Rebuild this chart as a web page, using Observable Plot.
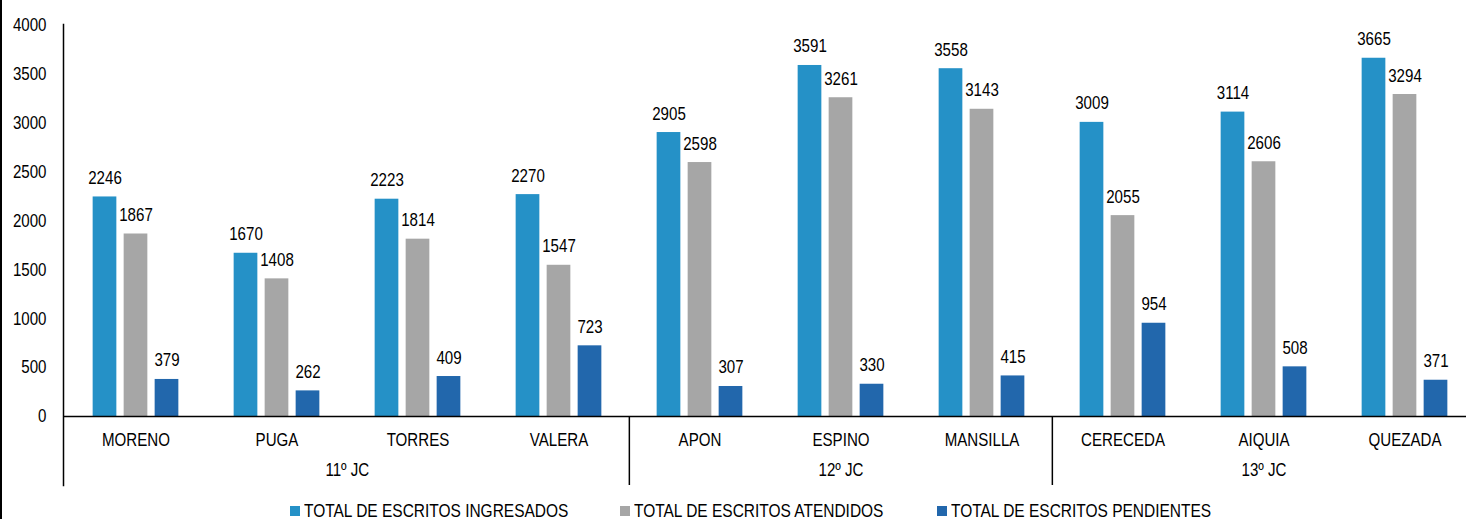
<!DOCTYPE html>
<html>
<head>
<meta charset="utf-8">
<script src="https://cdn.jsdelivr.net/npm/d3@7"></script>
<script src="https://cdn.jsdelivr.net/npm/@observablehq/plot@0.6"></script>
<style>
  html, body { margin: 0; padding: 0; background: #fff; }
  body { width: 1466px; height: 519px; position: relative; overflow: hidden; font-family: "Liberation Sans", Arial, sans-serif; }
  #edge { position: absolute; left: 0; top: 0; width: 1.5px; height: 519px; background: #000; }
  .item { position: absolute; top: 501px; height: 20px; display: flex; align-items: center; font-size: 18px; line-height: 20px; color: #000; white-space: nowrap; }
  .sw { width: 10px; height: 10px; margin-right: 4px; flex: none; }
  .lbl { display: inline-block; transform: scaleX(0.86); transform-origin: 0 50%; }
</style>
</head>
<body>
<div id="edge"></div>
<div id="chart"></div>
<div id="legend"></div>
<script>
const categories = ["MORENO", "PUGA", "TORRES", "VALERA", "APON", "ESPINO", "MANSILLA", "CERECEDA", "AIQUIA", "QUEZADA"];
const ingresados = [2246, 1670, 2223, 2270, 2905, 3591, 3558, 3009, 3114, 3665];
const atendidos  = [1867, 1408, 1814, 1547, 2598, 3261, 3143, 2055, 2606, 3294];
const pendientes = [379, 262, 409, 723, 307, 330, 415, 954, 508, 371];
const seriesNames = ["TOTAL DE ESCRITOS INGRESADOS", "TOTAL DE ESCRITOS ATENDIDOS", "TOTAL DE ESCRITOS PENDIENTES"];
const seriesColors = ["#2591c7", "#a6a6a6", "#2267ac"];
const yTicks = [0, 500, 1000, 1500, 2000, 2500, 3000, 3500, 4000];
const groupLabels = ["11º JC", "12º JC", "13º JC"];
const groupAnchors = ["TORRES", "ESPINO", "AIQUIA"];
const groupEdge = [true, false, false];
const separators = ["APON", "CERECEDA"];

const FONT = "'Liberation Sans', Arial, sans-serif";
const FS = 18;
const SQUEEZE = 0.84; // condensed look of the original typeface
const X0 = 63, X1 = 1476;
const bw = (X1 - X0) / categories.length;
const barW = 24, step = 31;
const inset = (bw - barW) / 2;
const legendLeft = [290, 620, 937];

const allSeries = [ingresados, atendidos, pendientes];
const marks = [];
allSeries.forEach((vals, s) => {
  const rows = categories.map((c, i) => ({cat: c, v: vals[i]}));
  const dx = (s - 1) * step;
  marks.push(Plot.barY(rows, {x: "cat", y: "v", fill: seriesColors[s], dx, insetLeft: inset, insetRight: inset}));
  marks.push(Plot.text(rows, {x: "cat", y: "v", text: d => String(d.v), dx, dy: -13, lineAnchor: "bottom", fontSize: FS, fill: "#000"}));
});

const plot = Plot.plot({
  width: 1466,
  height: 495,
  marginLeft: X0,
  marginRight: 0,
  marginTop: 24,
  marginBottom: 10,
  style: {fontFamily: FONT, fontSize: FS + "px", color: "#000", background: "#fff", overflow: "visible"},
  x: {type: "band", domain: categories, range: [X0, X1], padding: 0},
  y: {domain: [0, 4000], range: [416, 25]},
  marks: [
    ...marks,
    Plot.axisY({ticks: yTicks, tickSize: 0, tickPadding: 17, fontSize: FS, label: null, tickFormat: d => String(d)}),
    Plot.axisX({ticks: [], label: null}),
    Plot.frame({anchor: "left", stroke: "#000", strokeWidth: 1.5}),
    Plot.ruleY([0], {stroke: "#000", strokeWidth: 1.5}),
    Plot.ruleX(separators, {x: d => d, dx: -bw / 2, insetTop: 392, stroke: "#000", strokeWidth: 1.5}),
    Plot.text(categories, {x: d => d, y: 0, dy: 24, fontSize: FS, fill: "#000"}),
    Plot.text(groupLabels, {x: (d, i) => groupAnchors[i], y: 0, dy: 54, fontSize: FS, fill: "#000", filter: (d, i) => !groupEdge[i]}),
    Plot.text(groupLabels, {x: (d, i) => groupAnchors[i], y: 0, dy: 54, dx: -bw / 2, fontSize: FS, fill: "#000", filter: (d, i) => groupEdge[i]})
  ]
});

// condense every text horizontally around its anchor point
d3.select(plot).selectAll("text").each(function () {
  const t = d3.select(this);
  let tr = t.attr("transform") || "";
  const xa = t.attr("x");
  if (xa != null && !isNaN(+xa)) {
    const ya = t.attr("y");
    if (ya != null && !isNaN(+ya) && !/em$/.test(ya)) {
      tr += ` translate(${+xa},${+ya})`;
      t.attr("y", null);
    } else {
      tr += ` translate(${+xa},0)`;
    }
    t.attr("x", null);
  }
  t.attr("transform", (tr + ` scale(${SQUEEZE},1)`).trim());
});

document.getElementById("chart").appendChild(plot);

const legend = document.getElementById("legend");
seriesNames.forEach((n, i) => {
  const it = document.createElement("div");
  it.className = "item";
  it.style.left = legendLeft[i] + "px";
  it.innerHTML = `<span class="sw" style="background:${seriesColors[i]}"></span><span class="lbl">${n}</span>`;
  legend.appendChild(it);
});
</script>
</body>
</html>
